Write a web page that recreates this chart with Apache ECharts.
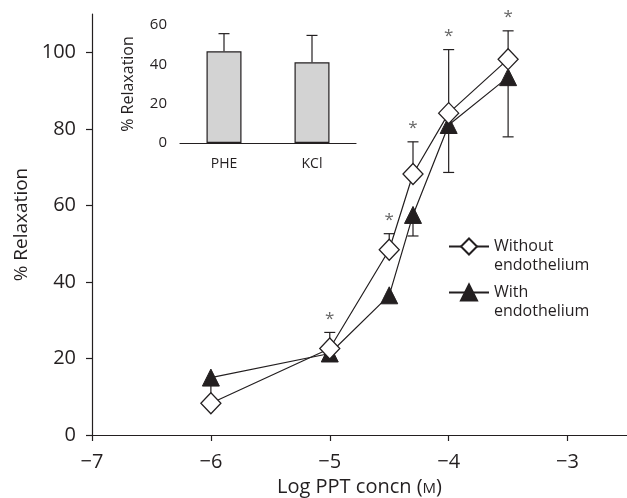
<!DOCTYPE html>
<html>
<head>
<meta charset="utf-8">
<script src="https://cdn.jsdelivr.net/npm/echarts@6/dist/echarts.min.js"></script>
<style>
  html, body { margin: 0; padding: 0; background: #fff; }
  #chart { width: 627px; height: 498px; }
</style>
</head>
<body>
<div id="chart"></div>
<script>
// log concentration of PPT (M)
const xs = [-6, -5, -4.5, -4.3, -4, -3.5]
const withoutMean = [8.3, 22.6, 48.4, 68.2, 84.1, 98.2]
const withoutErrUp = [0, 4.2, 4.2, 8.4, 16.6, 7.4]
const withoutStar = [0, 1, 1, 1, 1, 1]
const withMean = [15, 21.3, 36.5, 57.5, 81, 93.5]
const withErrDown = [6.7, 0, 0, 5.5, 12.4, 15.6]

const insetCats = ['PHE', 'KCl']
const insetMean = [46.6, 41]
const insetErrUp = [9, 13.7]

const xTicks = [-7, -6, -5, -4, -3]
const yTicks = [0, 20, 40, 60, 80, 100]

const ink = '#231f20'
const font = '"Open Sans", "Noto Sans", sans-serif'

const minus = (v) => (v < 0 ? '\u2212' + Math.abs(v) : String(v))

// rows: [x, y, err, direction, star]
const errRows = (x, mean, err, dir, star) =>
  x.map((v, i) => [v, mean[i], err[i], dir, star ? star[i] : 0])

const renderErr = (params, api) => {
  const e = api.value(2)
  if (!e) return
  const x = api.value(0)
  const y = api.value(1)
  const dir = api.value(3)
  const p0 = api.coord([x, y])
  const p1 = api.coord([x, y + dir * e])
  const style = { stroke: ink, lineWidth: 1.2 }
  const children = [
    { type: 'line', shape: { x1: p0[0], y1: p0[1], x2: p1[0], y2: p1[1] }, style },
    { type: 'line', shape: { x1: p1[0] - 5.5, y1: p1[1], x2: p1[0] + 5.5, y2: p1[1] }, style },
  ]
  if (api.value(4)) {
    children.push({
      type: 'text',
      style: {
        text: '*', x: p1[0], y: p1[1] - 5,
        align: 'center', verticalAlign: 'bottom',
        fill: '#666', font: '17px ' + font,
      },
    })
  }
  return { type: 'group', children }
}

const axisCommon = {
  axisLine: { lineStyle: { color: ink, width: 1.2 } },
  axisTick: { lineStyle: { color: ink, width: 1.2 } },
  splitLine: { show: false },
}

const chart = echarts.init(document.getElementById('chart'))
chart.setOption({
  animation: false,
  textStyle: { fontFamily: font, color: ink },
  grid: [
    { left: 92, top: 14, right: 0, bottom: 63, outerBoundsMode: 'none' },
    { left: 180, top: 25, width: 176, height: 118, outerBoundsMode: 'none' },
  ],
  xAxis: [
    {
      type: 'value', gridIndex: 0, min: -7, max: -2.5,
      ...axisCommon,
      axisTick: { ...axisCommon.axisTick, length: 6, customValues: xTicks },
      axisLabel: { customValues: xTicks, formatter: minus, fontSize: 20, color: ink, margin: 17 },
      name: 'Log PPT concn ({sc|M})',
      nameLocation: 'middle', nameGap: 42,
      nameTextStyle: {
        fontSize: 20, color: ink,
        rich: { sc: { fontSize: 15, color: ink, padding: [3, 0, 0, 0] } },
      },
    },
    {
      type: 'category', gridIndex: 1, data: insetCats,
      ...axisCommon,
      axisTick: { ...axisCommon.axisTick, length: 4 },
      axisLabel: { fontSize: 14, color: ink, margin: 14 },
    },
  ],
  yAxis: [
    {
      type: 'value', gridIndex: 0, min: 0, max: 110,
      ...axisCommon,
      axisTick: { ...axisCommon.axisTick, length: 6, customValues: yTicks },
      axisLabel: { customValues: yTicks, fontSize: 20, color: ink, margin: 16 },
      name: '% Relaxation',
      nameLocation: 'middle', nameGap: 60,
      nameTextStyle: { fontSize: 19, color: ink },
    },
    {
      type: 'value', gridIndex: 1, min: 0, max: 60, interval: 20,
      ...axisCommon,
      axisTick: { ...axisCommon.axisTick, length: 4 },
      axisLabel: { fontSize: 15, color: ink, margin: 13 },
      name: '% Relaxation',
      nameLocation: 'middle', nameGap: 44,
      nameTextStyle: { fontSize: 16, color: ink },
    },
  ],
  legend: {
    left: 448, top: 218, orient: 'vertical', padding: 0,
    itemWidth: 40, itemHeight: 20, itemGap: -11,
    data: ['Without\nendothelium', 'With\nendothelium'],
    // blank first line keeps the icon level with the first text line
    formatter: (name) => ' \n' + name,
    textStyle: { fontSize: 16, lineHeight: 19, color: ink },
  },
  series: [
    {
      type: 'custom', xAxisIndex: 0, yAxisIndex: 0, z: 1,
      renderItem: renderErr,
      data: errRows(xs, withMean, withErrDown, -1),
    },
    {
      type: 'custom', xAxisIndex: 0, yAxisIndex: 0, z: 1,
      renderItem: renderErr,
      data: errRows(xs, withoutMean, withoutErrUp, 1, withoutStar),
    },
    {
      name: 'With\nendothelium',
      type: 'line', xAxisIndex: 0, yAxisIndex: 0, z: 3,
      data: xs.map((x, i) => [x, withMean[i]]),
      symbol: 'triangle', symbolSize: [17, 17],
      lineStyle: { color: ink, width: 1.2 },
      itemStyle: { color: ink, borderColor: ink, borderWidth: 1 },
    },
    {
      name: 'Without\nendothelium',
      type: 'line', xAxisIndex: 0, yAxisIndex: 0, z: 4,
      data: xs.map((x, i) => [x, withoutMean[i]]),
      symbol: 'diamond', symbolSize: [20, 21],
      lineStyle: { color: ink, width: 1.2 },
      itemStyle: { color: '#fff', borderColor: ink, borderWidth: 1.3 },
    },
    {
      type: 'bar', xAxisIndex: 1, yAxisIndex: 1, z: 2,
      data: insetMean, barWidth: 35,
      itemStyle: { color: '#d3d3d3', borderColor: ink, borderWidth: 1.2 },
    },
    {
      type: 'custom', xAxisIndex: 1, yAxisIndex: 1, z: 1,
      renderItem: renderErr,
      data: insetMean.map((m, i) => [i, m, insetErrUp[i], 1, 0]),
    },
  ],
})
</script>
</body>
</html>
